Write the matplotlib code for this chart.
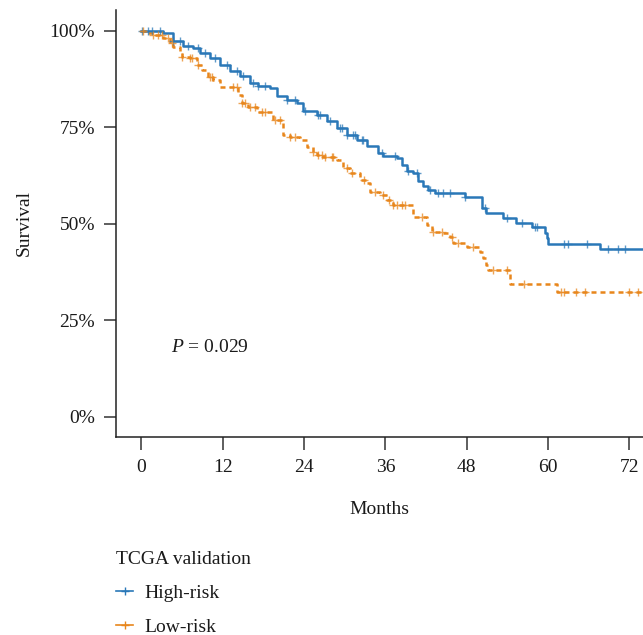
import numpy as np
import matplotlib
matplotlib.use("Agg")
import matplotlib.pyplot as plt
from matplotlib.lines import Line2D
from matplotlib.font_manager import FontProperties

plt.rcParams['font.family'] = ['Liberation Serif', 'DejaVu Serif']
plt.rcParams['mathtext.fontset'] = 'custom'
plt.rcParams['mathtext.rm'] = 'Liberation Serif'
plt.rcParams['mathtext.it'] = 'Liberation Serif:italic'

# ---- data (months, survival %) ----
times_high = [0, 3.2, 4.6, 6.1, 7.6, 8.6, 10.1, 11.6, 13.1, 14.5, 16.0, 17.2, 19.0, 20.0,
              21.5, 22.9, 23.8, 25.9, 27.4, 28.8, 30.3, 31.8, 33.3, 34.9, 35.6, 37.7, 38.4,
              39.2, 40.0, 40.8, 41.5, 42.3, 43.3, 47.7, 50.2, 50.9, 53.3, 55.2, 57.6, 59.5,
              59.8, 60.0, 67.6]
surv_high = [100, 99.4, 97.4, 96.1, 95.6, 94.3, 93.0, 91.2, 89.6, 88.3, 86.5, 85.7, 85.2, 83.1,
             82.1, 81.3, 79.2, 78.2, 76.6, 74.8, 73.0, 71.7, 70.1, 68.3, 67.5, 67.0, 65.2,
             63.6, 63.1, 61.0, 59.7, 58.7, 57.9, 57.0, 54.1, 52.8, 51.5, 50.2, 49.2, 47.6,
             46.3, 44.8, 43.5]
censor_high = [0.1, 1.0, 1.5, 2.7, 4.6, 5.7, 6.9, 8.3, 9.4, 10.8, 12.6, 14.1, 15.0, 16.4,
               17.2, 18.2, 21.5, 22.6, 24.1, 26.0, 26.3, 27.8, 29.3, 29.6, 30.3, 31.2, 31.5,
               32.5, 32.7, 35.5, 37.4, 39.3, 40.6, 42.6, 43.7, 44.5, 45.5, 47.7, 50.7, 53.9,
               56.1, 58.0, 58.3, 62.4, 62.9, 65.8, 68.8, 70.3, 71.3]

times_low = [0, 0.8, 1.7, 3.2, 4.2, 4.6, 5.7, 6.0, 7.2, 8.2, 8.9, 9.8, 10.5, 11.6, 14.2, 14.8,
             15.7, 17.0, 19.4, 20.7, 20.9, 21.9, 23.4, 24.4, 25.3, 25.9, 26.8, 28.8, 29.7,
             30.8, 32.2, 33.3, 33.7, 35.2, 36.2, 37.1, 40.0, 42.1, 42.8, 44.5, 45.5, 45.9,
             48.0, 49.9, 50.4, 50.9, 51.1, 54.4, 61.3]
surv_low = [100, 99.5, 98.9, 98.1, 96.8, 95.8, 94.5, 93.2, 92.9, 91.1, 89.8, 88.0, 87.2, 85.4,
            83.4, 81.3, 80.2, 79.0, 76.9, 76.1, 73.0, 72.5, 71.7, 69.9, 68.6, 67.8, 67.3,
            66.5, 64.5, 63.2, 61.4, 60.6, 58.2, 57.5, 56.2, 54.9, 51.8, 49.7, 47.9, 47.6,
            46.6, 45.0, 44.0, 42.7, 41.2, 39.3, 38.1, 34.4, 32.4]
censor_low = [0.2, 1.7, 2.4, 3.0, 3.9, 4.5, 6.0, 7.2, 7.4, 8.3, 10.1, 10.4, 13.5, 14.1, 14.8,
              15.3, 16.0, 16.7, 17.8, 18.2, 19.7, 20.4, 21.9, 22.6, 25.3, 26.0, 26.6, 27.1,
              28.1, 28.2, 30.3, 31.0, 32.9, 34.4, 35.6, 36.6, 37.1, 37.7, 38.4, 38.9, 41.4,
              43.0, 44.4, 45.8, 46.7, 48.9, 51.8, 53.9, 56.5, 61.9, 62.4, 64.1, 65.4, 72.0,
              73.2]
max_followup = 75.0

x_ticks = [0, 12, 24, 36, 48, 60, 72]
y_ticks = [0, 25, 50, 75, 100]
y_ticklabels = ["0%", "25%", "50%", "75%", "100%"]
group_labels = ["High-risk", "Low-risk"]
legend_title = "TCGA validation"
p_text = "$\\mathit{P}$ = 0.029"

col_high = "#2a78b8"
col_low = "#e8861c"
txt_col = "#1a1a1a"
FS = 14

W, H = 643, 635
fig = plt.figure(figsize=(W / 100, H / 100), dpi=100)
ax = fig.add_axes([116 / W, 1 - 437 / H, (W - 116) / W, (437 - 10) / H])


def step_at(times, surv, t):
    idx = np.searchsorted(times, t, side="right") - 1
    return np.asarray(surv)[idx]


def draw(times, surv, censor, color, ls):
    t = list(times) + [max_followup]
    s = list(surv) + [surv[-1]]
    ax.step(t, s, where="post", color=color, lw=1.8, linestyle=ls, zorder=3)
    c = np.array(censor)
    ax.plot(c, step_at(np.array(times), surv, c), linestyle="none", marker="+",
            color=color, markersize=6, mew=1.0, alpha=0.75, zorder=4)


draw(times_high, surv_high, censor_high, col_high, "-")
draw(times_low, surv_low, censor_low, col_low, (0, (2.0, 1.6)))

ax.set_xlim(-3.75, 74.0)
ax.set_ylim(-5.2, 105.4)
ax.set_xticks(x_ticks)
ax.set_xticklabels([str(v) for v in x_ticks])
ax.set_yticks(y_ticks)
ax.set_yticklabels(y_ticklabels)
for sp in ["top", "right"]:
    ax.spines[sp].set_visible(False)
for sp in ["left", "bottom"]:
    ax.spines[sp].set_linewidth(1.1)
    ax.spines[sp].set_color("#222222")
ax.tick_params(axis="both", length=9, width=1.1, color="#333333",
               labelsize=FS, pad=6, labelcolor=txt_col)
ax.tick_params(axis="x", pad=7)

ax.set_ylabel("Survival", fontsize=FS, labelpad=12, color=txt_col)
ax.set_xlabel("Months", fontsize=FS, labelpad=18, color=txt_col)

ax.text(4.4, 18.0, p_text, fontsize=FS, va="center", ha="left", color=txt_col)

handles = [Line2D([], [], color=col_high, lw=1.2, marker="+", markersize=6),
           Line2D([], [], color=col_low, lw=1.2, marker="+", markersize=6)]
title_fp = FontProperties(family=['Liberation Serif', 'DejaVu Serif'], size=FS)
leg = fig.legend(handles, group_labels, title=legend_title, loc="upper left",
                 bbox_to_anchor=(108 / W, 1 - 543 / H), frameon=False, fontsize=FS,
                 title_fontproperties=title_fp, handlelength=0.9, handletextpad=0.55,
                 labelspacing=0.85, alignment="left", borderaxespad=0)
for t in leg.get_texts():
    t.set_color(txt_col)
leg.get_title().set_color(txt_col)

fig.savefig("out.png", dpi=100)
